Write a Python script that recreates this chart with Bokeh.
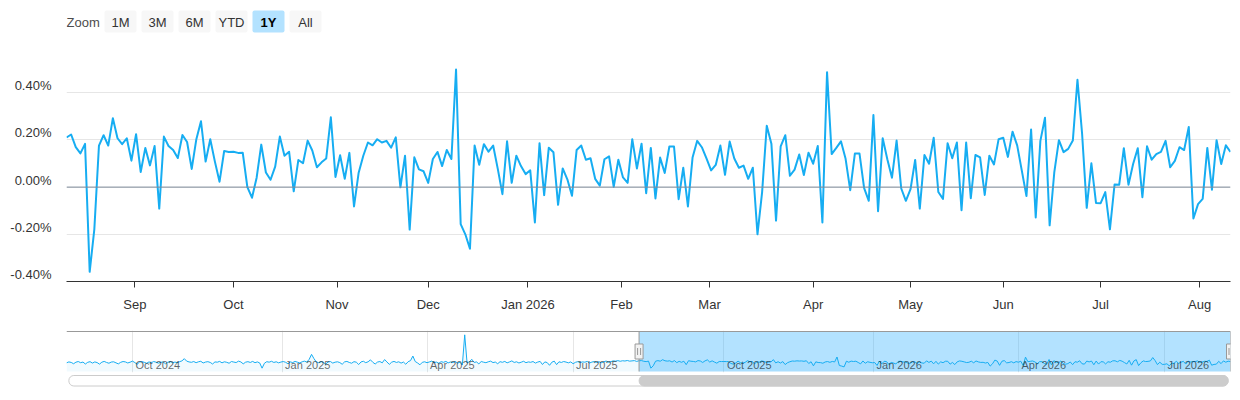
import pandas as pd
from bokeh.plotting import figure
from bokeh.models import Range1d, FixedTicker, CustomJSTickFormatter, Span, LinearAxis
from bokeh.layouts import column
from bokeh.embed import file_html
from bokeh.resources import INLINE
from bokeh.core.properties import value

# ---------------- data ----------------
holidays = ["2024-09-02", "2024-11-28", "2024-12-25", "2025-01-01", "2025-01-20",
            "2025-02-17", "2025-04-18", "2025-05-26", "2025-06-19", "2025-07-04",
            "2025-09-01", "2025-11-27", "2025-12-25", "2026-01-01", "2026-01-19",
            "2026-02-16", "2026-04-03", "2026-05-25", "2026-06-19", "2026-07-03"]
first_date = "2024-08-21"
range_start = "2025-08-11"
last_date = "2026-08-11"

# daily values (%) before the selected 1Y range (shown only in the navigator)
early_values = [
    0.05, 0.12, 0.08, -0.02, 0.10, 0.15, 0.06, 0.11, -0.04, 0.09, 0.14, 0.03, 0.12, 0.07, -0.05, 0.10, 0.16, 0.08, 0.02, 0.11,
    0.13, 0.05, -0.03, 0.09, 0.15, 0.12, 0.04, 0.10, 0.18, 0.07, -0.06, 0.11, 0.14, 0.09, 0.02, 0.12, 0.06, 0.15, 0.10, 0.03,
    0.08, 0.13, -0.02, 0.10, 0.16, 0.05, 0.11, 0.07, 0.14, 0.20, 0.37, 0.18, 0.12, 0.09, 0.15, 0.06, 0.13, 0.17, 0.04, 0.11,
    0.14, 0.08, -0.04, 0.12, 0.10, 0.16, 0.05, 0.13, 0.09, 0.02, 0.15, 0.11, 0.07, 0.18, 0.12, -0.03, 0.10, 0.14, 0.08, 0.16,
    0.06, 0.12, 0.04, -0.36, 0.02, 0.14, 0.10, 0.17, 0.08, 0.13, 0.05, 0.11, 0.15, 0.09, -0.02, 0.12, 0.07, 0.16, 0.10, 0.04,
    0.13, 0.18, 0.11, 0.32, 0.70, 0.38, 0.12, 0.06, 0.14, 0.09, -0.05, 0.11, 0.15, 0.03, 0.10, 0.13, 0.07, -0.06, 0.12, 0.16,
    0.08, 0.02, 0.14, 0.10, -0.08, 0.12, 0.17, 0.06, 0.13, 0.28, 0.09, -0.04, 0.11, 0.15, 0.05, 0.30, 0.12, -0.07, 0.10, 0.16,
    0.08, 0.13, 0.03, 0.11, -0.06, 0.14, 0.22, 0.57, 0.15, 0.04, -0.10, 0.09, 0.13, 0.06, 0.12, 0.18, 0.07, 0.11, 0.02, 0.14,
    0.09, 0.16, 0.05, 0.12, 0.08, 0.15, 0.03, 0.10, -0.12, 2.20, 0.04, 0.14, 0.32, 0.08, 0.12, -0.03, 0.15, 0.10, 0.06, 0.13,
    0.18, 0.07, 0.11, -0.02, 0.14, 0.09, 0.16, 0.05, 0.12, 0.20, 0.08, 0.13, 0.04, 0.10, 0.17, 0.06, 0.12, 0.09, 0.15, 0.03,
    0.11, 0.16, -0.08, 0.12, 0.07, -0.14, 0.10, 0.18, -0.09, 0.13, 0.08, 0.15, 0.11, 0.05, 0.12, -0.02, 0.09, 0.14, 0.07, 0.12,
    0.10, 0.16, 0.04, 0.11, 0.15, 0.08, 0.13, 0.06, 0.12, 0.19, 0.09, 0.14, 0.20, 0.18, 0.22, 0.17, 0.21, 0.19, 0.23, 0.18,
    0.20, 0.22, 0.16,
]

# daily values (%) in the selected 1Y range (main chart)
main_values = [
    0.210, 0.223, 0.169, 0.143, 0.183, -0.359, -0.179, 0.176, 0.220, 0.176, 0.292, 0.207, 0.182, 0.207, 0.112, 0.224,
    0.064, 0.166, 0.092, 0.174, -0.091, 0.214, 0.174, 0.157, 0.123, 0.221, 0.191, 0.077, 0.203, 0.279, 0.108, 0.203,
    0.108, 0.023, 0.153, 0.149, 0.150, 0.145, 0.146, 0.000, -0.045,
    0.040, 0.180, 0.062, 0.031, 0.087, 0.214, 0.133, 0.150, -0.018, 0.115, 0.101, 0.197, 0.155, 0.084, 0.105, 0.121,
    0.296, 0.043, 0.135, 0.035, 0.145, -0.082, 0.061, 0.133, 0.189, 0.177, 0.203, 0.189, 0.196, 0.167, 0.211, -0.001,
    0.133, -0.180, 0.126, 0.075, 0.067, 0.018, 0.119, 0.149, 0.089, 0.157, 0.119,
    0.498, -0.157, -0.200, -0.261, 0.176, 0.095, 0.182, 0.150, 0.176, 0.077, -0.030, 0.194, 0.018, 0.133, 0.089, 0.055,
    0.071, -0.150, 0.186, -0.034, 0.167, 0.148, -0.075, 0.079, 0.033, -0.037, 0.157, 0.176, 0.116, 0.122, 0.035, 0.006,
    0.118, 0.130, 0.001, 0.116, 0.041, 0.018, 0.203, 0.079, 0.184, -0.026, 0.166,
    -0.048, 0.125, 0.060, 0.172, 0.172, -0.051, 0.082, -0.082, 0.125, 0.196, 0.169, 0.122, 0.071, 0.094, 0.176, 0.052,
    0.193, 0.121, 0.082, 0.091, 0.035, 0.082, -0.200, -0.021, 0.260, 0.184, -0.142, 0.173, 0.220, 0.048, 0.074, 0.138,
    0.051, 0.146, 0.099, 0.174, -0.150, 0.487, 0.140, 0.166, 0.194,
    0.120, -0.013, 0.142, 0.142, -0.004, -0.058, 0.305, -0.102, 0.207, 0.118, 0.040, 0.197, -0.006, -0.058, -0.009, 0.115,
    -0.091, 0.136, 0.099, 0.209, -0.021, -0.050, 0.186, 0.122, 0.189, -0.098, 0.189, -0.047, 0.136, 0.126, -0.033, 0.133,
    0.096, 0.203, 0.209, 0.128, 0.235, 0.177, 0.070, -0.038, 0.244, -0.129,
    0.196, 0.294, -0.162, 0.062, 0.199, 0.148, 0.162, 0.197, 0.455, 0.226, -0.088, 0.101, -0.067, -0.068, -0.021, -0.179,
    0.011, 0.010, 0.165, 0.010, 0.098, 0.165, -0.043, 0.173, 0.116, 0.140, 0.149, 0.196, 0.084, 0.111, 0.169, 0.157,
    0.255, -0.133, -0.072, -0.050, 0.166, -0.011, 0.199, 0.098, 0.177, 0.149,
]

month_starts = ["2025-09-01", "2025-10-01", "2025-11-01", "2025-12-01", "2026-01-01", "2026-02-01",
                "2026-03-01", "2026-04-01", "2026-05-01", "2026-06-01", "2026-07-01", "2026-08-01"]
month_labels = ["Sep", "Oct", "Nov", "Dec", "Jan 2026", "Feb", "Mar", "Apr", "May", "Jun", "Jul", "Aug"]

quarter_starts = ["2024-10-01", "2025-01-01", "2025-04-01", "2025-07-01",
                  "2025-10-01", "2026-01-01", "2026-04-01", "2026-07-01"]
quarter_labels = ["Oct 2024", "Jan 2025", "Apr 2025", "Jul 2025",
                  "Oct 2025", "Jan 2026", "Apr 2026", "Jul 2026"]

y_ticks = [-0.4, -0.2, 0.0, 0.2, 0.4, 0.6]
y_labels = ["-0.40%", "-0.20%", "0.00%", "0.20%", "0.40%", ""]

zoom_buttons = ["1M", "3M", "6M", "YTD", "1Y", "All"]
selected_button = "1Y"

# ---------------- styles ----------------
FONT = "Liberation Sans"
LINE = "#16adf2"
GRID = "#e6e6e6"
TEXT = "#333333"
MASK = "#2caffe"
W = 1240
LEFT, RIGHT = 66, 10           # frame borders shared by all panels
FRAME_W = W - LEFT - RIGHT
MAIN_FRAME_H = 236
LABEL_RAISE_PX = 7              # y labels sit slightly above their grid lines

# ---------------- ordinal (trading-day) axis ----------------
all_values = early_values + main_values
dates = pd.bdate_range(first_date, last_date, freq="C", holidays=holidays)
n_all = min(len(dates), len(all_values))
dates = dates[:n_all]
sel = int(dates.searchsorted(pd.Timestamp(range_start)))
main_dates = dates[sel:]
main_y = all_values[sel:n_all]


def ordinal_pos(day, d):
    t = pd.Timestamp(day)
    k = int(d.searchsorted(t))
    if k < len(d) and d[k] == t:
        return float(k)
    p = k - 1
    return float(p + (t - d[p]) / (d[k] - d[p]))


main_tick_pos = [ordinal_pos(m, main_dates) for m in month_starts]
nav_tick_pos = [ordinal_pos(q, dates) for q in quarter_starts]


def label_formatter(pos, lab):
    return CustomJSTickFormatter(args=dict(pos=list(pos), lab=list(lab)), code="""
        let b = 0, d = Infinity;
        for (let i = 0; i < pos.length; i++) {
            const e = Math.abs(pos[i] - tick);
            if (e < d) { d = e; b = i; }
        }
        return lab[b];
    """)


common = dict(output_backend="svg", toolbar_location=None, width=W,
              min_border_left=LEFT, min_border_right=RIGHT)


def bare(fig):
    fig.outline_line_color = None
    fig.xaxis.visible = False
    fig.yaxis.visible = False
    fig.xgrid.visible = False
    fig.ygrid.visible = False


# ---------------- zoom buttons row (pixel coordinates of the row) ----------------
BH = 40
btn = figure(height=BH, x_range=Range1d(LEFT, W - RIGHT), y_range=Range1d(BH, 0),
             min_border_top=0, min_border_bottom=0, **common)
bare(btn)
bx0, bstep, bw = 104, 37, 32
lefts = [bx0 + i * bstep for i in range(len(zoom_buttons))]
fills = [MASK if b == selected_button else "#f7f7f7" for b in zoom_buttons]
alphas = [0.36 if b == selected_button else 1.0 for b in zoom_buttons]
btn.quad(left=lefts, right=[l + bw for l in lefts], top=[10] * len(lefts), bottom=[32] * len(lefts),
         fill_color=fills, fill_alpha=alphas, line_color=None, border_radius=2)
btn.text(x=[66], y=[21.5], text=["Zoom"], text_font=value(FONT), text_font_size="13px",
         text_color="#4d4d4d", text_baseline="middle", text_align="left")
normal = [b for b in zoom_buttons if b != selected_button]
btn.text(x=[lefts[zoom_buttons.index(b)] + bw / 2 for b in normal], y=[21.5] * len(normal), text=normal,
         text_font=value(FONT), text_font_size="13px", text_color=TEXT,
         text_baseline="middle", text_align="center")
btn.text(x=[lefts[zoom_buttons.index(selected_button)] + bw / 2], y=[21.5], text=[selected_button],
         text_font=value(FONT), text_font_size="13px", text_color="#000000", text_font_style="bold",
         text_baseline="middle", text_align="center")

# ---------------- main chart ----------------
y0, y1 = -0.4, 0.6
p = figure(height=280, x_range=Range1d(0, len(main_y) - 1), y_range=Range1d(y0, y1),
           min_border_top=5, min_border_bottom=39, **common)
p.outline_line_color = None
p.xgrid.visible = False
p.yaxis.visible = False
p.ygrid.ticker = FixedTicker(ticks=y_ticks)
p.ygrid.grid_line_color = GRID

# label axis on a range shifted by a few pixels so labels sit just above grid lines
shift = LABEL_RAISE_PX * (y1 - y0) / MAIN_FRAME_H
p.extra_y_ranges = {"labels": Range1d(y0 - shift, y1 - shift)}
yax = LinearAxis(y_range_name="labels", ticker=FixedTicker(ticks=y_ticks),
                 formatter=label_formatter(y_ticks, y_labels))
yax.axis_line_color = None
yax.major_tick_line_color = None
yax.major_tick_out = 0
yax.major_tick_in = 0
yax.minor_tick_line_color = None
yax.major_label_standoff = 15
p.add_layout(yax, "left")

p.xaxis.ticker = FixedTicker(ticks=main_tick_pos)
p.xaxis.formatter = label_formatter(main_tick_pos, month_labels)
p.xaxis.axis_line_color = TEXT
p.xaxis.major_tick_line_color = TEXT
p.xaxis.major_tick_out = 6
p.xaxis.major_tick_in = 0
p.xaxis.minor_tick_line_color = None
p.xaxis.major_label_standoff = 9
for ax in (p.xaxis[0], yax):
    ax.major_label_text_font = FONT
    ax.major_label_text_font_size = "13px"
    ax.major_label_text_color = TEXT
p.add_layout(Span(location=0, dimension="width", line_color="#7e8c9a", line_width=1))
p.line(list(range(len(main_y))), main_y, line_color=LINE, line_width=2, line_join="round")

# ---------------- navigator ----------------
vmin, vmax = min(all_values[:n_all]), max(all_values[:n_all])
span = vmax - vmin
ylo, yhi = vmin - 0.1 * span, vmax + 0.1 * span
px = (yhi - ylo) / 40.0
nav = figure(height=53, x_range=Range1d(0, n_all - 1), y_range=Range1d(ylo - px, yhi + px),
             min_border_top=10, min_border_bottom=1, **common)
bare(nav)
nav.xgrid.visible = True
nav.xgrid.ticker = FixedTicker(ticks=nav_tick_pos)
nav.xgrid.grid_line_color = GRID
xs = list(range(n_all))
nav.quad(left=[sel], right=[n_all - 1], bottom=[ylo], top=[yhi], fill_color=MASK, fill_alpha=0.36, line_color=None)
nav.varea(x=xs, y1=[ylo] * n_all, y2=all_values[:n_all], fill_color=LINE, fill_alpha=0.06)
nav.line(xs, all_values[:n_all], line_color=LINE, line_width=1)
nav.text(x=nav_tick_pos, y=[ylo + 7 * px] * len(nav_tick_pos), text=quarter_labels, x_offset=3,
         text_font=value(FONT), text_font_size="11px", text_color="#000000", text_alpha=0.6,
         text_baseline="alphabetic", text_align="left")
# outline
nav.segment(x0=[0], y0=[yhi], x1=[n_all - 1], y1=[yhi], line_color="#999999", line_width=1)
nav.segment(x0=[sel, n_all - 1], y0=[ylo, ylo], x1=[sel, n_all - 1], y1=[yhi, yhi],
            line_color="#999999", line_width=1)
# handles
ppi = FRAME_W / (n_all - 1)  # pixels per trading day in the navigator
ymid = (ylo + yhi) / 2
nav.rect(x=[sel, n_all - 1], y=[ymid, ymid], width=8, height=15, width_units="screen", height_units="screen",
         fill_color="#f2f2f2", line_color="#999999", line_width=1)
gx = []
for h in (sel, n_all - 1):
    gx += [h - 1.5 / ppi, h + 1.5 / ppi]
nav.rect(x=gx, y=[ymid] * 4, width=1, height=7, width_units="screen", height_units="screen",
         fill_color="#999999", line_color=None)

# ---------------- scrollbar ----------------
SH = 17
sb = figure(height=SH, x_range=Range1d(-1.0, n_all), y_range=Range1d(SH, 0),
            min_border_top=0, min_border_bottom=0, **common)
bare(sb)
sb.quad(left=[0], right=[n_all - 1], top=[2], bottom=[12.5], fill_color="white",
        line_color="#cccccc", line_width=1, border_radius=5)
sb.quad(left=[sel], right=[n_all - 1], top=[2], bottom=[12.5], fill_color="#cccccc",
        line_color="#cccccc", line_width=1, border_radius=5)

layout = column(btn, p, nav, sb, spacing=0)
open("out.html", "w").write(file_html(layout, INLINE))
